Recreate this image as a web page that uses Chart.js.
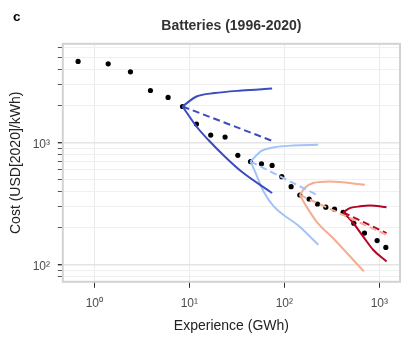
<!DOCTYPE html>
<html>
<head>
<meta charset="utf-8">
<title>Batteries (1996-2020)</title>
<script src="https://cdn.jsdelivr.net/npm/chart.js@4.4.1/dist/chart.umd.min.js"></script>
<style>
	html, body { margin: 0; padding: 0; background: #fff; }
	canvas { display: block; }
</style>
</head>
<body>
<canvas id="battery-chart" width="409" height="341"></canvas>
<script>
// observed cost vs cumulative experience, one point per year 1996-2020
var experience = [0.675, 1.40, 2.40, 3.90, 5.98, 8.48, 11.9, 16.8, 23.8, 32.4, 44.1, 57.5, 74.4,
	94.1, 117.9, 145.6, 182.4, 223.5, 273.5, 337.6, 415.7, 539, 698, 948, 1171];
var cost = [4615, 4416, 3797, 2668, 2339, 1973, 1415, 1150, 1107, 785, 698, 669, 648,
	524, 434, 371, 344, 313, 295, 284, 267, 218, 181, 157, 138];

// forecast fans [experience, cost]: upper bound, median, lower bound
var fan2001Upper = [[8.48, 1973], [11.9, 2382], [18.55, 2541], [35.4, 2667], [74.4, 2771]];
var fan2001Median = [[8.48, 1973], [74.4, 1032]];
var fan2001Lower = [[8.48, 1973], [11.9, 1352], [15.8, 1052], [23.6, 768], [35.4, 578], [74.4, 385]];

var fan2006Upper = [[44.1, 698], [57.5, 855], [76.2, 910], [123.8, 945], [226.9, 957]];
var fan2006Median = [[44.1, 698], [218.3, 373]];
var fan2006Lower = [[44.1, 698], [49.2, 576], [60.1, 400], [76.6, 302], [146.3, 203], [228, 145]];

var fan2011Upper = [[145.6, 371], [164.4, 423], [201, 465], [301, 479], [703, 450]];
var fan2011Median = [[145.6, 371], [1191, 175]];
var fan2011Lower = [[145.6, 371], [171.3, 298], [218.3, 225], [326.4, 164], [687, 87.7]];

var fan2016Upper = [[415.7, 267], [489, 290], [598, 298], [794, 305], [1191, 295]];
var fan2016Median = [[415.7, 267], [1191, 181]];
var fan2016Lower = [[415.7, 267], [516, 225], [675, 170], [860, 132], [1191, 106]];

var fanColors = ['#3B4CC0', '#A3C2F8', '#F5AD91', '#B40426'];

// axis ticks
var xTicks = [1, 10, 100, 1000];
var yTicks = [80, 90, 100, 200, 300, 400, 500, 600, 700, 800, 900,
	1000, 2000, 3000, 4000, 5000, 6000];
var yMajor = [100, 1000];

var supDigits = { '0': '\u2070', '1': '\u00B9', '2': '\u00B2', '3': '\u00B3' };

function powerLabel(v) {
	var e = Math.round(Math.log10(v));
	return '10' + supDigits[String(e)];
}

function toPoints(arr) {
	return arr.map(function(p) { return { x: p[0], y: p[1] }; });
}

function fanLine(arr, color, dashed) {
	return {
		data: toPoints(arr),
		showLine: true,
		borderColor: color,
		backgroundColor: color,
		borderWidth: 2,
		borderDash: dashed ? [7, 4] : [],
		pointRadius: 0,
		cubicInterpolationMode: dashed ? 'default' : 'monotone',
		tension: 0,
		fill: false,
		order: 1
	};
}

var dots = experience.map(function(x, i) { return { x: x, y: cost[i] }; });

var datasets = [{
	data: dots,
	pointRadius: 2.6,
	pointBackgroundColor: '#000',
	pointBorderWidth: 0,
	showLine: false,
	order: 2
}];

var fans = [
	[fan2001Upper, fan2001Median, fan2001Lower],
	[fan2006Upper, fan2006Median, fan2006Lower],
	[fan2011Upper, fan2011Median, fan2011Lower],
	[fan2016Upper, fan2016Median, fan2016Lower]
];
fans.forEach(function(f, i) {
	datasets.push(fanLine(f[0], fanColors[i], false));
	datasets.push(fanLine(f[1], fanColors[i], true));
	datasets.push(fanLine(f[2], fanColors[i], false));
});

// grey frame round the plotting area, plus the panel letter
var panelFrame = {
	id: 'panelFrame',
	afterDatasetsDraw: function(chart) {
		var a = chart.chartArea, ctx = chart.ctx;
		ctx.save();
		ctx.strokeStyle = '#d2d2d2';
		ctx.lineWidth = 2;
		ctx.strokeRect(a.left, a.top, a.right - a.left, a.bottom - a.top);
		ctx.restore();
	},
	afterDraw: function(chart) {
		var ctx = chart.ctx;
		ctx.save();
		ctx.fillStyle = '#000';
		ctx.font = 'bold 13.5px "Liberation Sans", Arial, sans-serif';
		ctx.textBaseline = 'alphabetic';
		ctx.fillText('c', 13, 20.5);
		ctx.restore();
	}
};

Chart.defaults.font.family = '"Liberation Sans", Arial, sans-serif';

var ctx = document.getElementById('battery-chart');
var chart = new Chart(ctx, {
	type: 'scatter',
	data: { datasets: datasets },
	plugins: [panelFrame],
	options: {
		responsive: false,
		animation: false,
		layout: { padding: { left: 0, right: 9, top: 0, bottom: 0 } },
		plugins: {
			legend: { display: false },
			tooltip: { enabled: false },
			title: {
				display: true,
				text: 'Batteries (1996-2020)',
				fullSize: false,
				color: '#333',
				font: { size: 14, weight: 'bold' },
				padding: { top: 17.6, bottom: 9.4 }
			}
		},
		scales: {
			x: {
				type: 'logarithmic',
				min: 0.466,
				max: 1651,
				afterBuildTicks: function(scale) {
					scale.ticks = xTicks.map(function(v) { return { value: v, major: true }; });
				},
				afterFit: function(scale) { scale.height = 59.2; },
				ticks: {
					autoSkip: false,
					maxRotation: 0,
					padding: 8.2,
					color: '#4d4d4d',
					font: { size: 12 },
					callback: function(v) { return powerLabel(v); }
				},
				grid: {
					color: '#ebebeb',
					lineWidth: 1,
					tickLength: 6,
					tickColor: '#333'
				},
				border: { display: false },
				title: {
					display: true,
					text: 'Experience (GWh)',
					color: '#222',
					font: { size: 14 },
					padding: { top: 0, bottom: 6.4 }
				}
			},
			y: {
				type: 'logarithmic',
				min: 72.1,
				max: 6442,
				afterBuildTicks: function(scale) {
					scale.ticks = yTicks.map(function(v) { return { value: v, major: yMajor.indexOf(v) >= 0 }; });
				},
				afterFit: function(scale) { scale.width = 62.8; },
				ticks: {
					autoSkip: false,
					padding: 7.8,
					labelOffset: 2.5,
					color: '#4d4d4d',
					font: { size: 12 },
					callback: function(v) { return yMajor.indexOf(v) >= 0 ? powerLabel(v) : ''; }
				},
				grid: {
					color: function(c) { return yMajor.indexOf(c.tick && c.tick.value) >= 0 ? '#e4e4e4' : '#f0f0f0'; },
					lineWidth: function(c) { return yMajor.indexOf(c.tick && c.tick.value) >= 0 ? 1.4 : 1; },
					tickLength: 5,
					tickColor: function(c) { return yMajor.indexOf(c.tick && c.tick.value) >= 0 ? '#333' : '#555'; }
				},
				border: { display: false },
				title: {
					display: true,
					text: 'Cost (USD[2020]/kWh)',
					color: '#222',
					font: { size: 14 },
					padding: { top: 7.25, bottom: 0 }
				}
			}
		}
	}
});
</script>
</body>
</html>
